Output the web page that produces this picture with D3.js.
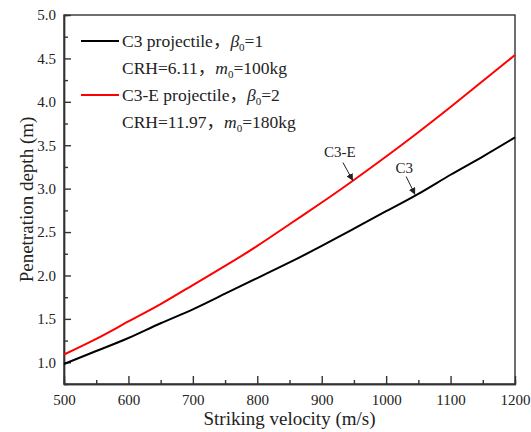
<!DOCTYPE html>
<html>
<head>
<meta charset="utf-8">
<script src="https://cdn.jsdelivr.net/npm/d3@7"></script>
<style>
  body { margin: 0; background: #fff; }
  text { font-family: "Liberation Serif", "Times New Roman", "Noto Sans CJK SC", serif; fill: #222; }
  .cjk { font-family: "Noto Sans CJK SC", sans-serif; }
</style>
</head>
<body>
<script>
// 資料 (讀圖估計)
const velocity = [500, 550, 600, 650, 700, 750, 800, 850, 900, 950, 1000, 1050, 1100, 1150, 1200];
const depthC3  = [0.98, 1.13, 1.28, 1.45, 1.61, 1.79, 1.97, 2.15, 2.34, 2.54, 2.74, 2.94, 3.16, 3.37, 3.59];
const depthC3E = [1.09, 1.27, 1.47, 1.67, 1.89, 2.11, 2.34, 2.59, 2.84, 3.10, 3.37, 3.65, 3.94, 4.24, 4.54];
const xTicks = [500, 600, 700, 800, 900, 1000, 1100, 1200];
const yTicks = [1.0, 1.5, 2.0, 2.5, 3.0, 3.5, 4.0, 4.5, 5.0];

// 箭頭標註 (資料座標)
const notes = [
  { label: "C3-E", at: [928, 3.43], from: [933, 3.30], to: [948.5, 3.09] },
  { label: "C3",   at: [1028, 3.24], from: [1031, 3.14], to: [1045, 2.93] }
];

const width = 531, height = 432;
const margin = { top: 15, right: 16, bottom: 48, left: 64 };

const svg = d3.select("body").append("svg")
  .attr("width", width)
  .attr("height", height);

const x = d3.scaleLinear().domain([500, 1200]).range([margin.left, width - margin.right]);
const y = d3.scaleLinear().domain([0.75, 5.0]).range([height - margin.bottom, margin.top]);

svg.append("defs").append("marker")
  .attr("id", "arrow")
  .attr("viewBox", "0 0 10 10")
  .attr("refX", 10).attr("refY", 5)
  .attr("markerWidth", 7).attr("markerHeight", 7)
  .attr("markerUnits", "userSpaceOnUse")
  .attr("orient", "auto")
  .append("path")
  .attr("d", "M0,0 L10,5 L0,10 z")
  .attr("fill", "#222");

// 座標軸
const xAxis = svg.append("g")
  .attr("transform", `translate(0,${height - margin.bottom})`)
  .call(d3.axisBottom(x).tickValues(xTicks).tickSizeInner(-8).tickSizeOuter(0).tickPadding(10).tickFormat(d3.format("d")));
const xMinor = svg.append("g")
  .attr("transform", `translate(0,${height - margin.bottom})`)
  .call(d3.axisBottom(x).tickValues(d3.range(550, 1200, 100)).tickSize(-4).tickFormat(""));

const yAxis = svg.append("g")
  .attr("transform", `translate(${margin.left},0)`)
  .call(d3.axisLeft(y).tickValues(yTicks).tickSizeInner(-7).tickSizeOuter(0).tickPadding(8).tickFormat(d3.format(".1f")));
const yMinor = svg.append("g")
  .attr("transform", `translate(${margin.left},0)`)
  .call(d3.axisLeft(y).tickValues(d3.range(1.25, 5.0, 0.5)).tickSize(-4).tickFormat(""));

[xAxis, xMinor, yAxis, yMinor].forEach(g => {
  g.selectAll("path").attr("stroke", "#333").attr("stroke-width", 1.4);
  g.selectAll("line").attr("stroke", "#333").attr("stroke-width", 1.4);
  g.selectAll("text").style("font-size", "15px").attr("fill", "#222");
});

// 上、右框線
svg.append("rect")
  .attr("x", margin.left).attr("y", margin.top)
  .attr("width", width - margin.left - margin.right)
  .attr("height", height - margin.top - margin.bottom)
  .attr("fill", "none").attr("stroke", "#333").attr("stroke-width", 1.4);

// 曲線
const line = d3.line()
  .x((d, i) => x(velocity[i]))
  .y(d => y(d))
  .curve(d3.curveNatural);

svg.append("path").datum(depthC3)
  .attr("d", line).attr("fill", "none").attr("stroke", "#000").attr("stroke-width", 2);
svg.append("path").datum(depthC3E)
  .attr("d", line).attr("fill", "none").attr("stroke", "#ff0000").attr("stroke-width", 2);

// 標註
notes.forEach(n => {
  svg.append("text")
    .attr("x", x(n.at[0])).attr("y", y(n.at[1]))
    .attr("text-anchor", "middle").attr("dy", "0.35em")
    .style("font-size", "15px").text(n.label);
  svg.append("line")
    .attr("x1", x(n.from[0])).attr("y1", y(n.from[1]))
    .attr("x2", x(n.to[0])).attr("y2", y(n.to[1]))
    .attr("stroke", "#222").attr("stroke-width", 1)
    .attr("marker-end", "url(#arrow)");
});

// 圖例
const legend = svg.append("g").attr("transform", "translate(81,41)");
const rows = [
  { color: "#000", name: "C3 projectile", beta: "1", crh: "6.11", m: "100" },
  { color: "#ff0000", name: "C3-E projectile", beta: "2", crh: "11.97", m: "180" }
];
rows.forEach((r, i) => {
  const g = legend.append("g").attr("transform", `translate(0,${i * 54})`);
  g.append("line").attr("x1", 0).attr("x2", 38).attr("y1", 0).attr("y2", 0)
    .attr("stroke", r.color).attr("stroke-width", 2);
  const t1 = g.append("text").attr("x", 41).attr("y", 0).attr("dy", "0.35em").style("font-size", "17.5px");
  t1.append("tspan").text(r.name);
  t1.append("tspan").attr("class", "cjk").text("，");
  t1.append("tspan").style("font-style", "italic").text("β");
  t1.append("tspan").attr("dy", "4").style("font-size", "11px").text("0");
  t1.append("tspan").attr("dy", "-4").text("=" + r.beta);
  const t2 = g.append("text").attr("x", 41).attr("y", 27).attr("dy", "0.35em").style("font-size", "17.5px");
  t2.append("tspan").text("CRH=" + r.crh);
  t2.append("tspan").attr("class", "cjk").text("，");
  t2.append("tspan").style("font-style", "italic").text("m");
  t2.append("tspan").attr("dy", "4").style("font-size", "11px").text("0");
  t2.append("tspan").attr("dy", "-4").text("=" + r.m + "kg");
});

// 軸標題
svg.append("text")
  .attr("x", (margin.left + width - margin.right) / 2).attr("y", 418)
  .attr("text-anchor", "middle").attr("dy", "0.35em")
  .style("font-size", "19px").text("Striking velocity (m/s)");
svg.append("text")
  .attr("transform", `translate(26,${(margin.top + height - margin.bottom) / 2}) rotate(-90)`)
  .attr("text-anchor", "middle").attr("dy", "0.35em")
  .style("font-size", "19px").text("Penetration depth (m)");
</script>
</body>
</html>
